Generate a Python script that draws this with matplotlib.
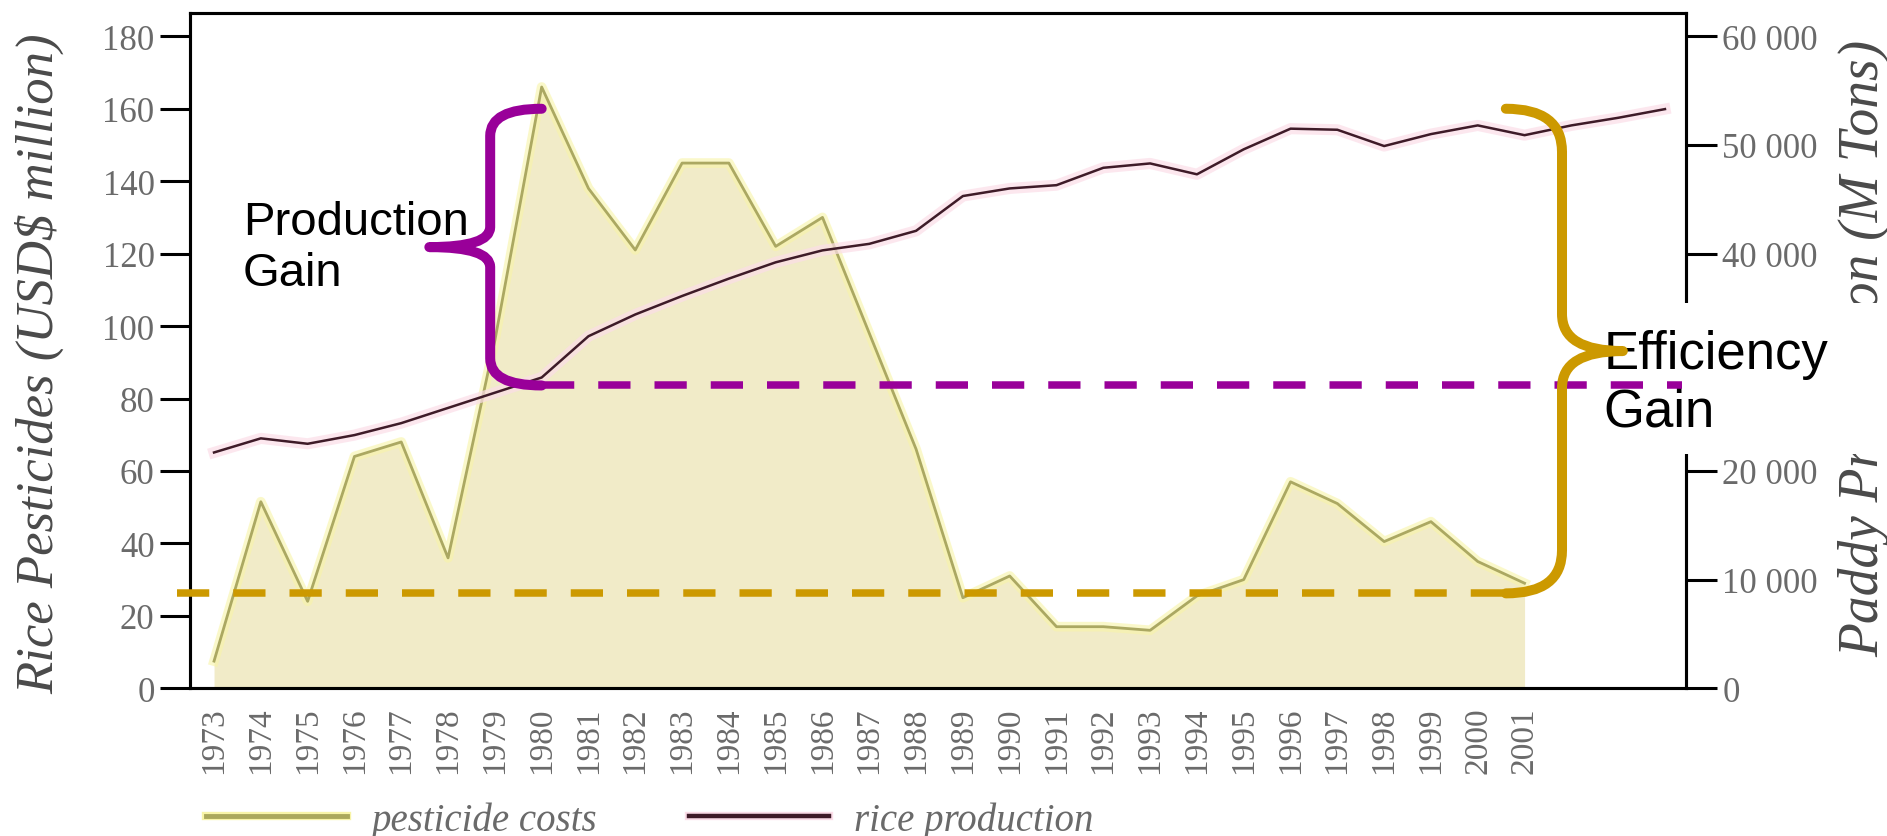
import matplotlib
matplotlib.use("Agg")
import matplotlib.pyplot as plt
import matplotlib.patheffects as pe
from matplotlib.path import Path
from matplotlib.patches import PathPatch, Rectangle
from matplotlib.lines import Line2D
from matplotlib.ticker import FuncFormatter

# data
years = list(range(1973, 2002))
pesticide_costs = [7.5, 51.5, 24, 64, 68, 36, 96, 166, 138, 121, 145, 145, 122, 130,
                   98, 66, 25, 31, 17, 17, 16, 25.5, 30, 57, 51, 40.5, 46, 35, 29]

rice_years = list(range(1973, 2005))
rice_production = [21700, 23000, 22500, 23300, 24400, 25800, 27200, 28600, 32400, 34400,
                   36100, 37700, 39200, 40300, 40900, 42100, 45300, 46000, 46300, 47900,
                   48300, 47300, 49600, 51500, 51400, 49900, 51000, 51800, 50900, 51800,
                   52500, 53300]

left_ticks = list(range(0, 181, 20))
right_ticks = list(range(0, 60001, 10000))

# annotation levels, in pesticide-axis units
base_level = 26.2
gain_level = 83.6
top_level = 160

plt.rcParams['font.family'] = 'Liberation Serif'

fig = plt.figure(figsize=(18.87, 8.37), dpi=100)
ax = fig.add_axes([0.1007, 0.1765, 0.7928, 0.8068])
ax2 = ax.twinx()

# pesticide area
ax.fill_between(years, pesticide_costs, 0, color='#F1EBC8', lw=0, zorder=1)
ax.plot(years, pesticide_costs, color='#ABA862', lw=2.0, zorder=2,
        path_effects=[pe.Stroke(linewidth=7, foreground='#F8F4A8', alpha=0.6), pe.Normal()])

# rice production on the right axis
ax2.plot(rice_years, rice_production, color='#3E1B28', lw=1.8,
         path_effects=[pe.Stroke(linewidth=8, foreground='#FBDDE8', alpha=0.7), pe.Normal()])

gray = '#6a6a6a'
for a in (ax, ax2):
    for s in a.spines.values():
        s.set_linewidth(2.2)
        s.set_color('black')

ax.set_xticks(years)
ax.set_xticklabels([str(y) for y in years])
ax.tick_params(axis='x', length=0, labelrotation=90, labelsize=24, labelcolor=gray, pad=13)
ax.set_yticks(left_ticks)
ax.tick_params(axis='y', length=21.5, width=2.2, labelsize=25, labelcolor=gray, pad=4)
ax2.set_yticks(right_ticks)
ax2.yaxis.set_major_formatter(FuncFormatter(lambda v, p: f"{int(v):,}".replace(',', ' ')))
ax2.tick_params(axis='y', length=22, width=2.2, labelsize=25, labelcolor=gray, pad=4)

ax.set_ylabel('Rice Pesticides (USD$ million)', fontsize=38, style='italic', color='#4a4a4a',
              va='center', ha='center')
ax.yaxis.set_label_coords(-0.1003, 0.4817)
ax2.set_ylabel('Paddy Production (M Tons)', fontsize=40, style='italic', color='#4a4a4a',
               va='center', ha='center', rotation=90)
ax2.yaxis.set_label_coords(1.119, 0.5047)

# annotations (drawn above both axes' contents)
dash = dict(lw=5.4, dashes=(4.3, 3.2), clip_on=False, zorder=11, transform=ax.transData)
ax2.plot([1972.2, 2000.6], [base_level, base_level], color='#CC9900', **dash)
ax2.plot([1980.0, 2004.37], [gain_level, gain_level], color='#990099', **dash)


def brace(x_end, x_spine, x_tip, y_top, y_bot, r_end, r_tip, color):
    y_mid = (y_top + y_bot) / 2
    verts = [(x_end, y_top), (x_spine, y_top), (x_spine, y_top - r_end),
             (x_spine, y_mid + r_tip), (x_spine, y_mid), (x_tip, y_mid),
             (x_spine, y_mid), (x_spine, y_mid - r_tip),
             (x_spine, y_bot + r_end), (x_spine, y_bot), (x_end, y_bot)]
    codes = [Path.MOVETO, Path.CURVE3, Path.CURVE3, Path.LINETO, Path.CURVE3, Path.CURVE3,
             Path.CURVE3, Path.CURVE3, Path.LINETO, Path.CURVE3, Path.CURVE3]
    patch = PathPatch(Path(verts, codes), fill=False, edgecolor=color, lw=7.2,
                      capstyle='round', joinstyle='round', transform=ax.transData,
                      clip_on=False, zorder=11)
    ax2.add_patch(patch)


brace(1980.0, 1978.9, 1977.6, top_level, gain_level, 7.5, 5.5, '#990099')
brace(2000.6, 2001.8, 2003.1, top_level, base_level, 11.9, 10.2, '#CC9900')

ax2.add_patch(Rectangle((2002.4, 64.7), 9, 41.7, transform=ax.transData, facecolor='white',
                        edgecolor='none', clip_on=False, zorder=9))
ax2.text(1973.62, 134.7, 'Production\nGain', transform=ax.transData, fontsize=34,
         family='Liberation Sans', va='top', ha='left', zorder=12)
ax2.text(2002.68, 99.2, 'Efficiency\nGain', transform=ax.transData, fontsize=38,
         family='Liberation Sans', va='top', ha='left', zorder=10)

ax.set_xlim(1972.487, 2004.45)
ax.set_ylim(0, 186.44)
ax2.set_ylim(0, 186.44 * 60000 / 180)

# legend
handles = [Line2D([], [], color='#ABA85C', lw=3.5,
                  path_effects=[pe.Stroke(linewidth=6, foreground='#F8F4A8'), pe.Normal()]),
           Line2D([], [], color='#3E1B28', lw=3.2,
                  path_effects=[pe.Stroke(linewidth=6, foreground='#FBDDE8'), pe.Normal()])]
fig.legend(handles, ['pesticide costs', 'rice production'], loc='center left',
           bbox_to_anchor=(206 / 1887, 16 / 837), ncol=2, frameon=False,
           handlelength=3.62, handletextpad=0.62, columnspacing=2.37, borderpad=0,
           borderaxespad=0, labelcolor=gray,
           prop=dict(family='Liberation Serif', style='italic', size=28))

fig.savefig('out.png', dpi=100)
